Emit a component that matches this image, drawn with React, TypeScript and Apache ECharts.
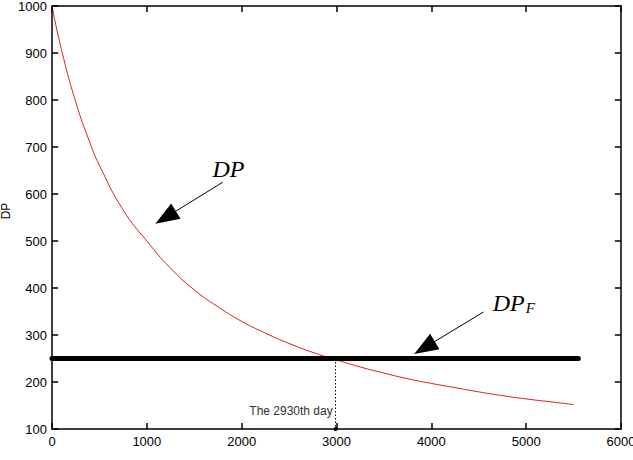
import React, { useEffect, useRef } from "react";
import * as echarts from "echarts";

const days = [0, 100, 250, 400, 500, 750, 1000, 1250, 1500, 1750, 2000, 2250, 2500, 2750, 3000, 3250, 3500, 3750, 4000, 4250, 4500, 4750, 5000, 5250, 5500];
const dpValues = [1000, 907, 796, 709, 661, 566, 500, 442, 396, 360, 329, 304, 282, 263, 247, 232, 219, 207, 197, 188, 179, 171, 164, 158, 152];
const dpfLine = [[0, 250], [5550, 250]];
const xTicks = [0, 1000, 2000, 3000, 4000, 5000, 6000];
const yTicks = [100, 200, 300, 400, 500, 600, 700, 800, 900, 1000];
const crossDay = 2990;
const crossLabel = "The 2930th day";
const dpArrow = [[1800, 625], [1198, 550]];
const dpfArrow = [[4550, 349], [3928, 273]];
const dpTextPos = [1860, 653];
const dpfTextPos = [4870, 368];
const X_MIN = 0, X_MAX = 6000, Y_MIN = 100, Y_MAX = 1000;
const X_TICK_LEN = 13;
const Y_TICK_LEN = 65;

export default function App() {
  const ref = useRef<HTMLDivElement>(null);
  useEffect(() => {
    const chart = echarts.init(ref.current!, null, { renderer: "svg" });
    const axisFont = () => ({ fontFamily: "Liberation Sans", fontSize: 13, color: "#000", formatter: (v: number) => String(v) });
    const tickLS = { color: "#000", type: "solid", width: 1.5 };
    const tickLines: any[] = [];
    xTicks.forEach((v) => {
      tickLines.push([{ coord: [v, Y_MIN], symbol: "none" }, { coord: [v, Y_MIN + X_TICK_LEN], symbol: "none", lineStyle: tickLS }]);
      tickLines.push([{ coord: [v, Y_MAX], symbol: "none" }, { coord: [v, Y_MAX - X_TICK_LEN], symbol: "none", lineStyle: tickLS }]);
    });
    yTicks.forEach((v) => {
      tickLines.push([{ coord: [X_MIN, v], symbol: "none" }, { coord: [X_MIN + Y_TICK_LEN, v], symbol: "none", lineStyle: tickLS }]);
      tickLines.push([{ coord: [X_MAX, v], symbol: "none" }, { coord: [X_MAX - Y_TICK_LEN, v], symbol: "none", lineStyle: tickLS }]);
    });
    chart.setOption({
      animation: false,
      grid: { left: 52, right: 12, top: 6, bottom: 31, show: false, outerBoundsMode: "none" },
      graphic: [
        { type: "text", x: 6, y: 211, rotation: Math.PI / 2, silent: true,
          style: { text: "DP", fontFamily: "Liberation Sans", fontSize: 12, fill: "#000", align: "center", verticalAlign: "middle" } },
      ],
      xAxis: [
        { type: "value", min: X_MIN, max: X_MAX, interval: 1000, position: "bottom",
          axisLine: { show: true, onZero: false, lineStyle: { color: "#000", width: 1.5 } }, axisTick: { show: false },
          axisLabel: { ...axisFont(), margin: 6 }, splitLine: { show: false } },
        { type: "value", min: X_MIN, max: X_MAX, interval: 1000, position: "top",
          axisLine: { show: true, onZero: false, lineStyle: { color: "#000", width: 1.5 } }, axisTick: { show: false }, axisLabel: { show: false }, splitLine: { show: false } },
      ],
      yAxis: [
        { type: "value", min: Y_MIN, max: Y_MAX, interval: 100, position: "left",
          axisLine: { show: true, onZero: false, lineStyle: { color: "#000", width: 1.5 } }, axisTick: { show: false },
          axisLabel: { ...axisFont(), margin: 5 }, splitLine: { show: false } },
        { type: "value", min: Y_MIN, max: Y_MAX, interval: 100, position: "right",
          axisLine: { show: true, onZero: false, lineStyle: { color: "#000", width: 1.5 } }, axisTick: { show: false }, axisLabel: { show: false }, splitLine: { show: false } },
      ],
      series: [
        {
          type: "line", name: "DP", data: days.map((d, i) => [d, dpValues[i]]), showSymbol: false, symbol: "none",
          smooth: true, lineStyle: { color: "#e41a1c", width: 1 }, z: 3,
          markLine: {
            silent: true, animation: false, symbol: "none",
            label: { show: false },
            lineStyle: tickLS,
            data: tickLines,
          },
        },
        {
          type: "line", name: "DPF", data: dpfLine, showSymbol: false, symbol: "none",
          lineStyle: { color: "#000", width: 5, cap: "round" }, z: 4,
          markLine: {
            silent: true, animation: false,
            label: { show: false },
            data: [
              [{ coord: [crossDay, 250], symbol: "none" }, { coord: [crossDay, 100], symbol: "circle", symbolSize: 4,
                lineStyle: { color: "#000", type: [1.5, 2], width: 1 } }],
              [{ coord: dpArrow[0], symbol: "none" }, { coord: dpArrow[1], symbol: "triangle", symbolSize: [18, 24],
                lineStyle: { color: "#000", type: "solid", width: 1 } }],
              [{ coord: dpfArrow[0], symbol: "none" }, { coord: dpfArrow[1], symbol: "triangle", symbolSize: [18, 24],
                lineStyle: { color: "#000", type: "solid", width: 1 } }],
            ],
            lineStyle: { color: "#000", type: "solid", width: 1 },
            itemStyle: { color: "#000" },
          },
          markPoint: {
            silent: true, symbol: "circle", symbolSize: 0,
            data: [
              { coord: dpTextPos, label: { show: true, formatter: "DP", fontFamily: "Liberation Serif", fontStyle: "italic", fontSize: 24, color: "#000", position: "inside" } },
              { coord: dpfTextPos, label: { show: true, formatter: "{a|DP}{b|F}", position: "inside",
                rich: { a: { fontFamily: "Liberation Serif", fontStyle: "italic", fontSize: 24, color: "#000" },
                        b: { fontFamily: "Liberation Serif", fontStyle: "italic", fontSize: 15, color: "#000", verticalAlign: "bottom", padding: [10, 0, 0, 1] } } } },
              { coord: [crossDay - 30, 138], label: { show: true, formatter: crossLabel, position: "left", distance: 0,
                fontFamily: "Liberation Sans", fontSize: 12, color: "#333" } },
            ],
          },
        },
      ],
    });
    return () => chart.dispose();
  }, []);
  return <div ref={ref} style={{ width: 633, height: 460, position: "absolute", left: 0, top: 0 }} />;
}
